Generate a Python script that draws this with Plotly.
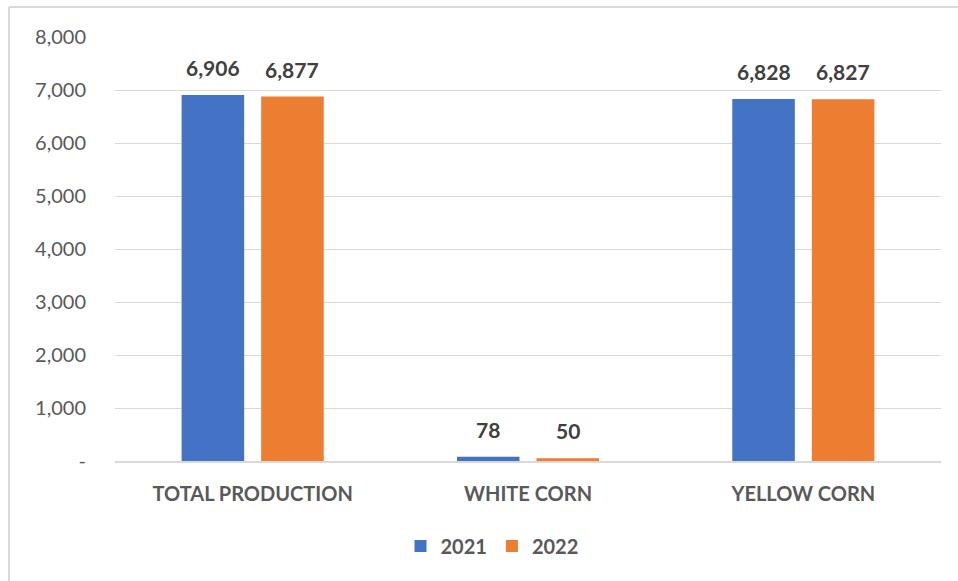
import plotly.graph_objects as go

# Corn production by type, 2021 vs 2022
categories = ["TOTAL PRODUCTION", "WHITE CORN", "YELLOW CORN"]
years = ["2021", "2022"]
values_2021 = [6906, 78, 6828]
values_2022 = [6877, 50, 6827]
y_ticks = [0, 1000, 2000, 3000, 4000, 5000, 6000, 7000, 8000]
y_tick_text = ["-", "1,000", "2,000", "3,000", "4,000", "5,000", "6,000", "7,000", "8,000"]

colors = ["#4472C4", "#ED7D31"]
series = [values_2021, values_2022]

FONT = "Lato"
W, H = 958, 581
ML, MR, MT, MB = 115, 17, 37, 120
PW = W - ML - MR
PH = H - MT - MB

fig = go.Figure()
for name, vals, col in zip(years, series, colors):
    fig.add_trace(go.Bar(
        x=categories, y=vals, name=name,
        marker=dict(color=col, line=dict(width=0)),
    ))

# value labels above each bar
slot = PW / 3 * (1 - 0.422) / 2
annotations = []
for i, vals in enumerate(series):
    offset = (i - 0.5) * slot
    for cat, v in zip(categories, vals):
        annotations.append(dict(
            x=cat, y=v, xref="x", yref="y", text=f"{v:,}",
            showarrow=False, xshift=offset, yanchor="bottom", yshift=13,
            font=dict(family=FONT, size=21, color="#404040", weight="bold"),
        ))

# outer chart frame (partly outside the page)
def px_x(p):
    return (p - ML) / PW

def px_y(p):
    return (H - MB - p) / PH

shapes = [
    dict(type="line", xref="paper", yref="paper",
         x0=px_x(9), x1=px_x(9), y0=px_y(7), y1=px_y(600),
         line=dict(color="#D9D9D9", width=2)),
    dict(type="line", xref="paper", yref="paper",
         x0=px_x(9), x1=px_x(970), y0=px_y(7), y1=px_y(7),
         line=dict(color="#D9D9D9", width=2)),
]

fig.update_layout(
    width=W, height=H,
    margin=dict(l=ML, r=MR, t=MT, b=MB),
    paper_bgcolor="white", plot_bgcolor="white",
    barmode="group", bargap=0.422, bargroupgap=0.214,
    font=dict(family=FONT, color="#595959"),
    showlegend=True,
    legend=dict(
        orientation="h", x=px_x(492), xanchor="center",
        y=px_y(546), yanchor="middle",
        font=dict(family=FONT, size=20, color="#595959", weight="bold"),
        itemwidth=30, traceorder="normal",
    ),
    annotations=annotations,
    shapes=shapes,
    xaxis=dict(
        showgrid=False, showline=True, linecolor="#D9D9D9", linewidth=2,
        ticks="", ticklabelstandoff=14,
        tickfont=dict(family=FONT, size=20, color="#595959", weight="bold"),
    ),
    yaxis=dict(
        range=[0, 8000], tickvals=y_ticks, ticktext=y_tick_text,
        showgrid=True, gridcolor="#D9D9D9", gridwidth=1,
        zeroline=False, showline=False, ticks="",
        ticklabelstandoff=28,
        tickfont=dict(family=FONT, size=20, color="#595959"),
    ),
)

fig.write_html("out.html")
